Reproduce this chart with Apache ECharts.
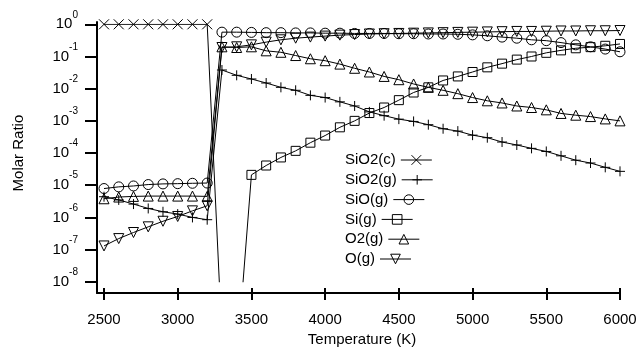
<!DOCTYPE html>
<html>
<head>
<meta charset="utf-8">
<script src="https://cdn.jsdelivr.net/npm/echarts@6/dist/echarts.min.js"></script>
<style>
  html, body { margin: 0; padding: 0; background: #fff; }
  #chart { width: 640px; height: 352px; }
</style>
</head>
<body>
<div id="chart"></div>
<script>
// temperature (K)
const temps = [2500, 2600, 2700, 2800, 2900, 3000, 3100, 3200, 3300, 3400, 3500, 3600,
  3700, 3800, 3900, 4000, 4100, 4200, 4300, 4400, 4500, 4600, 4700, 4800,
  4900, 5000, 5100, 5200, 5300, 5400, 5500, 5600, 5700, 5800, 5900, 6000]

// molar ratios (null = below the axis range)
const sio2c = [1, 1, 1, 1, 1, 1, 1, 1, 1.8e-10, null, null, null,
  null, null, null, null, null, null, null, null, null, null, null, null,
  null, null, null, null, null, null, null, null, null, null, null, null]
const sio2g = [4.4e-6, 3.5e-6, 2.6e-6, 1.9e-6, 1.5e-6, 1.27e-6, 1.0e-6, 8.5e-7, 3.8e-2, 2.6e-2, 2.0e-2, 1.5e-2,
  1.1e-2, 8.9e-3, 6.2e-3, 5.3e-3, 3.9e-3, 2.9e-3, 1.9e-3, 1.45e-3, 1.13e-3, 9.6e-4, 7.6e-4, 5.7e-4,
  4.8e-4, 3.6e-4, 3.0e-4, 2.2e-4, 1.78e-4, 1.4e-4, 1.12e-4, 8.2e-5, 6.0e-5, 4.9e-5, 3.6e-5, 2.7e-5]
const sio = [7.9e-6, 8.9e-6, 9.5e-6, 1.05e-5, 1.1e-5, 1.12e-5, 1.15e-5, 1.17e-5, 0.57, 0.57, 0.56, 0.55,
  0.55, 0.54, 0.54, 0.53, 0.53, 0.52, 0.52, 0.52, 0.51, 0.51, 0.5, 0.5,
  0.49, 0.47, 0.44, 0.4, 0.37, 0.33, 0.31, 0.27, 0.23, 0.2, 0.17, 0.14]
const sig = [null, null, null, null, null, null, null, null, null, 3e-11, 2.1e-5, 4.1e-5,
  7.3e-5, 1.17e-4, 2.1e-4, 3.5e-4, 6.3e-4, 1.0e-3, 1.75e-3, 2.6e-3, 4.4e-3, 7.6e-3, 1.1e-2, 1.8e-2,
  2.4e-2, 3.3e-2, 4.6e-2, 6.0e-2, 8.0e-2, 0.1, 0.13, 0.155, 0.18, 0.195, 0.215, 0.245]
const o2g = [3.8e-6, 4.3e-6, 4.5e-6, 4.6e-6, 4.6e-6, 4.6e-6, 4.6e-6, 4.5e-6, 0.2, 0.19, 0.2, 0.15,
  0.135, 0.107, 0.085, 0.074, 0.058, 0.043, 0.033, 0.024, 0.019, 0.014, 0.011, 0.0089,
  0.007, 0.0053, 0.0042, 0.0036, 0.0029, 0.0026, 0.0022, 0.0017, 0.0015, 0.00136, 0.00115, 0.001]
const og = [1.3e-7, 2.2e-7, 3.4e-7, 5.1e-7, 7.6e-7, 1.07e-6, 1.6e-6, 2.3e-6, 0.19, 0.2, 0.23, 0.28,
  0.33, 0.37, 0.4, 0.43, 0.46, 0.48, 0.5, 0.51, 0.52, 0.53, 0.54, 0.55,
  0.56, 0.57, 0.58, 0.59, 0.6, 0.6, 0.61, 0.62, 0.62, 0.63, 0.63, 0.64]

const FONT = '"Liberation Sans", Arial, sans-serif'

// marker shapes (open, black outline)
const SERIES = [
  { name: 'SiO2(c)', values: sio2c, symbol: 'path://M0,0L10,10M10,0L0,10', size: 10 },
  { name: 'SiO2(g)', values: sio2g, symbol: 'path://M5,0L5,10M0,5L10,5', size: 10 },
  { name: 'SiO(g)', values: sio, symbol: 'circle', size: 10 },
  { name: 'Si(g)', values: sig, symbol: 'rect', size: 9 },
  { name: 'O2(g)', values: o2g, symbol: 'triangle', size: 10 },
  { name: 'O(g)', values: og, symbol: 'path://M0,0L10,0L5,8.7Z', size: 10 }
]

const chart = echarts.init(document.getElementById('chart'))

const legendRow0 = 152.5, legendStep = 19.8

chart.setOption({
  animation: false,
  textStyle: { fontFamily: FONT, color: '#000' },
  grid: [
    // data area
    { left: 104, right: 20, top: 24.3, bottom: 65.3 },
    // only for the offset axis lines (Igor-style standoff)
    { left: 97, right: 20, top: 22, bottom: 59 }
  ],
  legend: SERIES.map((s, i) => ({
    data: [s.name],
    left: 345,
    top: legendRow0 + i * legendStep,
    align: 'right',
    orient: 'vertical',
    padding: 0,
    itemWidth: 31,
    itemHeight: 12,
    selectedMode: false,
    lineStyle: { color: '#000', width: 1 },
    itemStyle: { color: 'rgba(0,0,0,0)', borderColor: '#000', borderWidth: 1 },
    textStyle: { fontSize: 15, color: '#000', fontFamily: FONT }
  })),
  xAxis: [
    {
      type: 'value',
      min: 2500,
      max: 6000,
      interval: 500,
      offset: 6.3,
      name: 'Temperature (K)',
      nameLocation: 'middle',
      nameGap: 42,
      nameTextStyle: { fontSize: 15, color: '#000', fontFamily: FONT },
      axisLine: { show: false },
      axisTick: { show: true, length: 12, lineStyle: { color: '#000', width: 2 } },
      axisLabel: { fontSize: 15, color: '#000', margin: 24, fontFamily: FONT, formatter: v => String(v) },
      splitLine: { show: false }
    },
    {
      gridIndex: 1, type: 'value', min: 0, max: 1,
      axisLine: { show: true, lineStyle: { color: '#000', width: 2 } },
      axisTick: { show: false }, axisLabel: { show: false }, splitLine: { show: false }
    }
  ],
  yAxis: [
    {
      type: 'log',
      logBase: 10,
      min: 1e-8,
      max: 1,
      splitNumber: 8,
      offset: 7,
      name: 'Molar Ratio',
      nameLocation: 'middle',
      nameGap: 71,
      nameTextStyle: { fontSize: 15, color: '#000', fontFamily: FONT },
      axisLine: { show: false },
      axisTick: { show: true, length: 12, lineStyle: { color: '#000', width: 2 } },
      axisLabel: {
        margin: 19,
        formatter: v => '{b|10}{s|' + Math.round(Math.log10(v)) + '}',
        rich: {
          b: { fontSize: 15, color: '#000', fontFamily: FONT, padding: [7, 0, 7, 0] },
          s: { fontSize: 10, color: '#000', fontFamily: FONT, verticalAlign: 'top' }
        }
      },
      splitLine: { show: false }
    },
    {
      gridIndex: 1, type: 'value', min: 0, max: 1,
      axisLine: { show: true, lineStyle: { color: '#000', width: 2 } },
      axisTick: { show: false }, axisLabel: { show: false }, splitLine: { show: false }
    }
  ],
  series: SERIES.map(s => ({
    name: s.name,
    type: 'line',
    xAxisIndex: 0,
    yAxisIndex: 0,
    data: temps.map((t, i) => [t, s.values[i]]),
    symbol: s.symbol,
    symbolSize: s.size,
    showSymbol: true,
    lineStyle: { color: '#000', width: 1 },
    itemStyle: { color: 'rgba(0,0,0,0)', borderColor: '#000', borderWidth: 1 },
    emphasis: { disabled: true }
  }))
})
</script>
</body>
</html>
